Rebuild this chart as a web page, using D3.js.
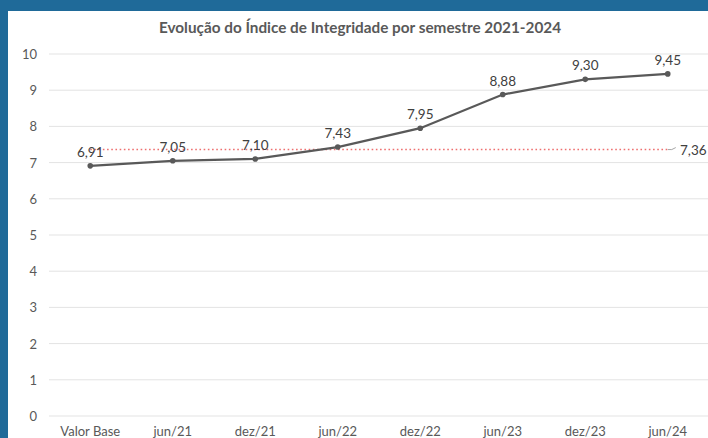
<!DOCTYPE html>
<html>
<head>
<meta charset="utf-8">
<script src="https://cdn.jsdelivr.net/npm/d3@7"></script>
<style>
  body { margin: 0; background: #1f6a99; }
  svg { display: block; }
</style>
</head>
<body>
<div id="chart"></div>
<script>
const categories = ["Valor Base", "jun/21", "dez/21", "jun/22", "dez/22", "jun/23", "dez/23", "jun/24"];
const values = [6.91, 7.05, 7.10, 7.43, 7.95, 8.88, 9.30, 9.45];
const average = 7.36;
const yTicks = [0, 1, 2, 3, 4, 5, 6, 7, 8, 9, 10];

const width = 708, height = 438;
const fmt = v => d3.format(".2f")(v).replace(".", ",");

const svg = d3.select("#chart")
  .append("svg")
  .attr("width", width)
  .attr("height", height)
  .style("font-family", "Lato, 'Open Sans', sans-serif");

// blue frame, white panel
svg.append("rect").attr("width", width).attr("height", height).attr("fill", "#1f6a99");
svg.append("rect").attr("x", 8).attr("y", 11).attr("width", width - 8).attr("height", height - 11).attr("fill", "#fff");

const x = d3.scaleBand()
  .domain(categories)
  .range([49, 709]);

const y = d3.scaleLinear()
  .domain([0, 10])
  .range([416, 54]);

const cx = d => x(d) + x.bandwidth() / 2;

svg.append("text")
  .attr("x", 360).attr("y", 33)
  .attr("text-anchor", "middle")
  .attr("font-size", 15.3).attr("font-weight", "bold")
  .attr("fill", "#595959")
  .text("Evolução do Índice de Integridade por semestre 2021-2024");

// gridlines
svg.append("g")
  .selectAll("line")
  .data(yTicks)
  .join("line")
  .attr("x1", 49).attr("x2", 708)
  .attr("y1", d => y(d)).attr("y2", d => y(d))
  .attr("stroke", "#e3e3e3").attr("stroke-width", 1);

svg.append("g")
  .selectAll("text")
  .data(yTicks)
  .join("text")
  .attr("x", 37).attr("y", d => y(d) + 5)
  .attr("text-anchor", "end")
  .attr("font-size", 13).attr("fill", "#595959")
  .text(d => d);

svg.append("g")
  .selectAll("text")
  .data(categories)
  .join("text")
  .attr("x", d => cx(d)).attr("y", 436)
  .attr("text-anchor", "middle")
  .attr("font-size", 13).attr("fill", "#595959")
  .text(d => d);

// average dotted line
svg.append("line")
  .attr("x1", cx(categories[0])).attr("x2", cx(categories[categories.length - 1]))
  .attr("y1", y(average)).attr("y2", y(average))
  .attr("stroke", "#ee6f6f").attr("stroke-width", 1.6)
  .attr("stroke-dasharray", "1.6,2.6");

svg.append("path")
  .attr("d", `M${cx(categories[categories.length - 1])},${y(average)} L${cx(categories[categories.length - 1]) + 4},${y(average)} L${cx(categories[categories.length - 1]) + 8},${y(average) - 2}`)
  .attr("fill", "none").attr("stroke", "#a6a6a6").attr("stroke-width", 1);

svg.append("text")
  .attr("x", 680).attr("y", y(average) + 5)
  .attr("font-size", 13.5).attr("fill", "#404040")
  .text(fmt(average));

// series
const line = d3.line()
  .x((d, i) => cx(categories[i]))
  .y(d => y(d));

svg.append("path")
  .datum(values)
  .attr("d", line)
  .attr("fill", "none")
  .attr("stroke", "#595959")
  .attr("stroke-width", 2.25);

svg.append("g")
  .selectAll("circle")
  .data(values)
  .join("circle")
  .attr("cx", (d, i) => cx(categories[i]))
  .attr("cy", d => y(d))
  .attr("r", 2.8)
  .attr("fill", "#595959");

svg.append("g")
  .selectAll("text")
  .data(values)
  .join("text")
  .attr("x", (d, i) => cx(categories[i]))
  .attr("y", d => y(d) - 9)
  .attr("text-anchor", "middle")
  .attr("font-size", 13.5).attr("fill", "#404040")
  .text(d => fmt(d));
</script>
</body>
</html>
